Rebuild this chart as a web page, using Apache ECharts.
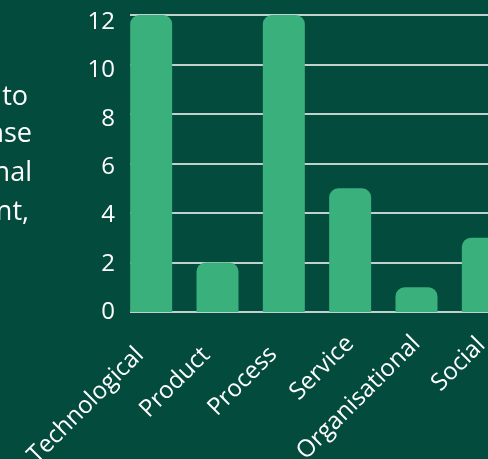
<!DOCTYPE html>
<html>
<head>
<meta charset="utf-8">
<script src="https://cdn.jsdelivr.net/npm/echarts@6/dist/echarts.min.js"></script>
<style>
html,body{margin:0;padding:0;background:#034b3d;overflow:hidden;width:488px;height:459px;}
#c{width:530px;height:459px;}
</style>
</head>
<body>
<div id="c"></div>
<script>
const categories = ['Technological', 'Product', 'Process', 'Service', 'Organisational', 'Social'];
const counts = [12, 2, 12, 5, 1, 3];
const yTicks = [0, 2, 4, 6, 8, 10, 12];
const sideText = ['to', 'ase', 'nal', 'nt,'];

const FONT = '"Open Sans", "Noto Sans", sans-serif';
const chart = echarts.init(document.getElementById('c'), null, {renderer: 'canvas'});

const sideX = [28, 32, 32, 29];
const sideY = [97, 134, 173, 212];
const labelPad = [16, 16, 15, 0, 0, 2];
const yMin = yTicks[0], yMax = yTicks[yTicks.length - 1];

const rich = {};
labelPad.forEach((p, i) => {
  rich['p' + i] = {color: '#ffffff', fontSize: 24, fontFamily: FONT, padding: [0, p, 0, 0]};
});

chart.setOption({
  backgroundColor: '#034b3d',
  animation: false,
  grid: [
    {left: 118, right: 14, top: 15, bottom: 147, outerBoundsMode: 'none', containLabel: false},
    {left: 130, right: 14, top: 15, bottom: 147, outerBoundsMode: 'none', containLabel: false},
    {left: 130, right: 14, top: 22, bottom: 147, outerBoundsMode: 'none', containLabel: false}
  ],
  xAxis: [
    {
      gridIndex: 0, type: 'category', data: categories,
      axisLine: {show: false}, axisTick: {show: false},
      axisLabel: {
        rotate: 45, margin: 28, color: '#ffffff', fontSize: 24, fontFamily: FONT, interval: 0,
        formatter: (v, i) => '{p' + i + '|' + v + '}', rich: rich
      }
    },
    {gridIndex: 1, type: 'category', data: categories, show: false},
    {gridIndex: 2, type: 'category', data: categories, show: false}
  ],
  yAxis: [
    {gridIndex: 0, type: 'value', min: yMin, max: yMax, interval: 2, show: false},
    {
      gridIndex: 1, type: 'value', min: yMin, max: yMax, interval: 2,
      axisLine: {show: false}, axisTick: {show: false}, axisLabel: {show: false},
      splitLine: {lineStyle: {color: '#ffffff', width: 1.5}}
    },
    {
      gridIndex: 2, type: 'value', min: yMin, max: yMax, interval: 2,
      axisLine: {show: false}, axisTick: {show: false}, splitLine: {show: false},
      axisLabel: {color: '#ffffff', fontSize: 24, fontFamily: FONT, margin: 15}
    }
  ],
  series: [{
    type: 'bar', xAxisIndex: 0, yAxisIndex: 0, data: counts, barWidth: 42,
    itemStyle: {color: '#3ab07d', borderRadius: [9, 9, 0, 0]}
  }],
  graphic: sideText.map((t, i) => ({
    type: 'text', x: sideX[i], y: sideY[i],
    style: {text: t, fill: '#ffffff', font: '27px ' + FONT, align: 'right', verticalAlign: 'middle'}
  }))
});
</script>
</body>
</html>
